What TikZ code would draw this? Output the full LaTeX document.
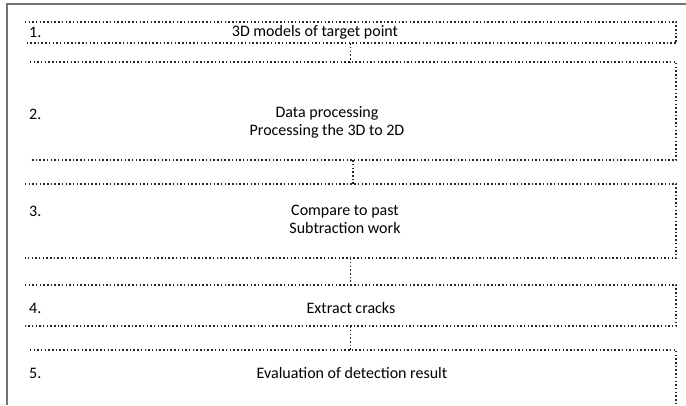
\documentclass[tikz,border=0pt]{standalone}
\usepackage{fontspec}
\setmainfont{Carlito}
\begin{document}
\begin{tikzpicture}[x=1pt,y=-1pt,
  box/.style={draw=none,inner sep=0pt,minimum width=#1},
  box/.default=651,
  dotline/.style={draw=black!85,line width=1.5pt,dash pattern=on 1.5pt off 2.2pt},
  conn/.style={draw=black!85,line width=1.5pt,dash pattern=on 1.5pt off 2.2pt},
  label/.style={font=\fontsize{16}{18}\selectfont,inner sep=0pt,anchor=west},
  title/.style={font=\fontsize{16}{18}\selectfont,inner sep=0pt,align=center}]
\useasboundingbox (0,0) rectangle (686,405);
\clip (0,0) rectangle (686,405);
% outer frame
\draw[black!55,line width=1.2pt] (7,405) -- (7,4) -- (690,4);
% boxes
\node[box=651,minimum height=21] (b1) at (350.5,32.5) {};
\node[box=646,minimum height=98] (b2) at (353,111) {};
\node[box=651,minimum height=74] (b3) at (350.5,221) {};
\node[box=651,minimum height=41] (b4) at (350.5,305.5) {};
\node[box=646,minimum height=65] (b5) at (353,382.5) {};
\foreach \b in {b1,b2,b3,b4,b5}
  \draw[dotline] (\b.north west) -- (\b.north east) -- (\b.south east) -- (\b.south west);
% numbers
\node[label] (n1) at (29,32) {1.};
\node[label] (n2) at (29,114) {2.};
\node[label] (n3) at (29,211) {3.};
\node[label] (n4) at (29,308) {4.};
\node[label] (n5) at (29,373) {5.};
% titles
\node[title] (t1) at (315,32) {3D models of target point};
\node[title] (t2) at (327,122) {Data processing\\Processing the 3D to 2D};
\node[title] (t3) at (345,219.5) {Compare to past\\Subtraction work};
\node[title] (t4) at (351,308) {Extract cracks};
\node[title] (t5) at (352,373) {Evaluation of detection result};
% connectors
\draw[conn] (b1.south) -- (b1.south |- b2.north);
\draw[conn] (b2.south) -- (b2.south |- b3.north);
\draw[conn] (b3.south) -- (b3.south |- b4.north);
\draw[conn] (b4.south) -- (b4.south |- b5.north);
\end{tikzpicture}
\end{document}
